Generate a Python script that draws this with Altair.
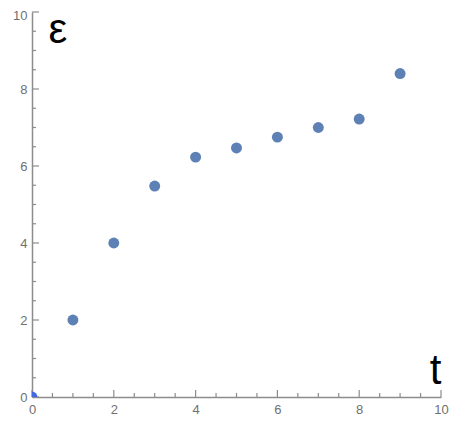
import altair as alt
import pandas as pd

t_vals = [1, 2, 3, 4, 5, 6, 7, 8, 9]
eps_vals = [2.0, 4.0, 5.48, 6.23, 6.47, 6.75, 7.0, 7.22, 8.4]
origin_t = [0]
origin_eps = [0]
major_ticks = [0, 2, 4, 6, 8, 10]
minor_ticks = [0.5, 1, 1.5, 2.5, 3, 3.5, 4.5, 5, 5.5, 6.5, 7, 7.5, 8.5, 9, 9.5]

W, H = 409, 385
AXIS_COLOR = "#8c8c8c"
LABEL_COLOR = "#707070"
FONT = "Liberation Sans"

pts = pd.DataFrame({"t": t_vals, "eps": eps_vals})
org = pd.DataFrame({"t": origin_t, "eps": origin_eps})
maj = pd.DataFrame({"v": major_ticks})
mnr = pd.DataFrame({"v": minor_ticks})

xs = alt.Scale(domain=[0, 10], nice=False)
ys = alt.Scale(domain=[0, 10], nice=False)

x_axis = alt.Axis(values=major_ticks, ticks=False, grid=False, domainColor=AXIS_COLOR,
                  domainWidth=1.5, labelColor=LABEL_COLOR, labelFontSize=13, labelFont=FONT,
                  labelPadding=6, title="t", titleFontSize=42, titleFont=FONT,
                  titleFontWeight="normal", titleColor="black", titleX=W - 6, titleY=-14,
                  titleAlign="center", titleBaseline="alphabetic", labelFlush=False)
y_axis = alt.Axis(values=major_ticks, ticks=False, grid=False, domainColor=AXIS_COLOR,
                  domainWidth=1.5, labelColor=LABEL_COLOR, labelFontSize=13, labelFont=FONT,
                  labelPadding=5, title="ε", titleFontSize=42, titleFont=FONT,
                  titleFontWeight="normal", titleColor="black", titleX=16, titleY=30,
                  titleAngle=0, titleAlign="left", titleBaseline="alphabetic", labelFlush=False,
                  labelOffset={"condition": {"test": "datum.value == 10", "value": 3}, "value": 0})

points = alt.Chart(pts).mark_circle(size=120, color="#5E81B5", opacity=1, clip=True).encode(
    x=alt.X("t:Q", scale=xs, axis=x_axis),
    y=alt.Y("eps:Q", scale=ys, axis=y_axis),
)
origin = alt.Chart(org).mark_circle(size=120, color="#4169E1", opacity=1, clip=True).encode(
    x=alt.X("t:Q", scale=xs),
    y=alt.Y("eps:Q", scale=ys),
)

def xticks(df, length):
    return alt.Chart(df).mark_rule(color=AXIS_COLOR, strokeWidth=1.2).encode(
        x=alt.X("v:Q", scale=xs), y=alt.value(H), y2=alt.value(H - length))

def yticks(df, length):
    return alt.Chart(df).mark_rule(color=AXIS_COLOR, strokeWidth=1.2).encode(
        y=alt.Y("v:Q", scale=ys), x=alt.value(0), x2=alt.value(length))

chart = alt.layer(
    xticks(maj, 7), xticks(mnr, 4), yticks(maj, 7), yticks(mnr, 4), origin, points
).properties(
    width=W, height=H,
    autosize=alt.AutoSizeParams(type="none"),
    padding={"left": 24, "top": 4, "right": 8, "bottom": 25},
).configure_view(stroke=None)

chart.save("out.html", embed_options={"renderer": "svg", "actions": False})
